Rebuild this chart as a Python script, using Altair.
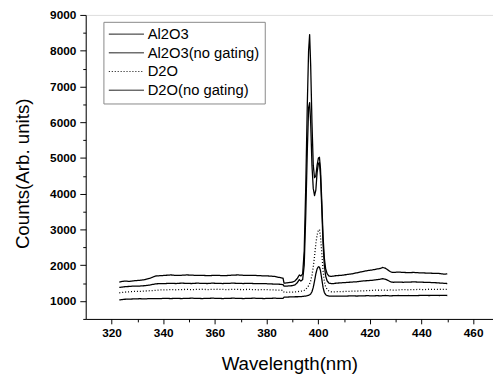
import altair as alt
import pandas as pd

wavelength = [323, 325, 327, 329, 331, 333, 335, 337, 339, 341, 343, 345, 347, 349, 351, 353,
              355, 357, 359, 361, 363, 365, 367, 369, 371, 373, 375, 377, 379, 381, 383, 385,
              386.4, 386.8, 388, 389, 390, 391, 392, 392.7, 393.3, 394, 394.6, 395.2, 395.8,
              396.3, 396.7, 397.1, 397.6, 398.1, 398.6, 399.1, 399.6, 400.1, 400.5, 400.9,
              401.4, 401.9, 402.4, 402.9, 403.5, 404.2, 405, 406, 407, 409, 411, 413, 415,
              417, 419, 421, 423, 424, 425, 426, 427, 428, 429, 431, 433, 435, 437, 439, 441,
              443, 445, 447, 449, 450]

al2o3 = [1530, 1560, 1550, 1570, 1580, 1600, 1640, 1700, 1710, 1720, 1730, 1715, 1720, 1730, 1725, 1715,
         1720, 1710, 1715, 1720, 1710, 1715, 1725, 1730, 1720, 1715, 1720, 1710, 1705, 1700, 1690, 1660,
         1640, 1500, 1510, 1520, 1530, 1560, 1640, 1730, 1700, 1760, 2400, 4200, 6500,
         8000, 8450, 7600, 6000, 4800, 4450, 4500, 4800, 5000, 5020, 4700,
         3800, 2800, 2200, 1900, 1760, 1700, 1690, 1700, 1710, 1720, 1740, 1760, 1790,
         1820, 1850, 1870, 1900, 1910, 1940, 1920, 1870, 1820, 1800, 1810, 1800, 1795, 1800, 1790, 1785,
         1780, 1775, 1770, 1750, 1760]

al2o3_no_gating = [1380, 1400, 1410, 1420, 1420, 1430, 1450, 1480, 1490, 1490, 1495, 1490, 1500, 1495, 1490, 1500,
                   1495, 1490, 1500, 1495, 1490, 1495, 1500, 1495, 1490, 1495, 1490, 1485, 1490, 1480, 1475, 1470,
                   1460, 1420, 1420, 1425, 1430, 1450, 1520, 1600, 1560, 1600, 2000, 3400, 5200,
                   6400, 6550, 6000, 4800, 4150, 3950, 4100, 4600, 4850, 4870, 4500,
                   3600, 2600, 2000, 1700, 1560, 1500, 1490, 1490, 1500, 1510, 1520, 1530, 1540,
                   1560, 1570, 1580, 1600, 1610, 1625, 1610, 1580, 1540, 1525, 1530, 1525, 1530, 1535, 1530, 1525,
                   1520, 1515, 1505, 1495, 1490]

d2o = [1230, 1250, 1260, 1270, 1270, 1280, 1290, 1300, 1310, 1310, 1320, 1315, 1320, 1325, 1320, 1325,
       1330, 1320, 1325, 1330, 1325, 1320, 1330, 1325, 1320, 1325, 1320, 1315, 1320, 1315, 1310, 1305,
       1300, 1250, 1245, 1250, 1250, 1255, 1260, 1270, 1275, 1280, 1300, 1330, 1380,
       1430, 1480, 1560, 1720, 1950, 2250, 2600, 2850, 2980, 3000, 2800,
       2350, 1850, 1550, 1400, 1320, 1280, 1260, 1255, 1260, 1265, 1270, 1275, 1280,
       1285, 1290, 1300, 1305, 1300, 1310, 1305, 1300, 1310, 1305, 1310, 1320, 1315, 1320, 1325, 1320,
       1330, 1325, 1330, 1325, 1330]

d2o_no_gating = [1030, 1050, 1055, 1060, 1065, 1060, 1070, 1065, 1070, 1075, 1070, 1075, 1070, 1075, 1080, 1075,
                 1070, 1075, 1080, 1075, 1070, 1075, 1080, 1075, 1070, 1075, 1080, 1075, 1070, 1075, 1080, 1075,
                 1075, 1110, 1110, 1115, 1115, 1120, 1120, 1125, 1125, 1130, 1135, 1140, 1150,
                 1160, 1175, 1200, 1260, 1380, 1560, 1760, 1900, 1960, 1950, 1850,
                 1620, 1380, 1240, 1180, 1150, 1140, 1135, 1135, 1140, 1135, 1140, 1145, 1140,
                 1145, 1150, 1145, 1150, 1145, 1150, 1155, 1150, 1145, 1150, 1155, 1150, 1155, 1150, 1155, 1160,
                 1155, 1160, 1155, 1160, 1155]

series_names = ["Al2O3", "Al2O3(no gating)", "D2O", "D2O(no gating)"]
x_ticks = [320, 330, 340, 350, 360, 370, 380, 390, 400, 410, 420, 430, 440, 450, 460]
y_ticks = [500, 1000, 1500, 2000, 2500, 3000, 3500, 4000, 4500, 5000, 5500, 6000, 6500,
           7000, 7500, 8000, 8500, 9000]

rows = []
for name, vals in zip(series_names, [al2o3, al2o3_no_gating, d2o, d2o_no_gating]):
    for w, v in zip(wavelength, vals):
        rows.append({"wl": w, "counts": v, "series": name})
df = pd.DataFrame(rows)

FONT = "Liberation Sans"

x_axis = alt.Axis(
    title="Wavelength(nm)", values=x_ticks, format="d",
    labelExpr="datum.value % 20 === 0 ? datum.label : ''",
    tickSize={"condition": {"test": "datum.value % 20 === 0", "value": 5}, "value": 3},
    labelPadding=4, labelFont=FONT, labelFontSize=12, labelFontWeight="bold", labelColor="black",
    titleFont=FONT, titleFontSize=19, titleFontWeight="normal", titleColor="black",
    titleX=207, titleY=51, titleBaseline="alphabetic",
    domainColor="black", tickColor="black", grid=False, labelFlush=False,
)
y_axis = alt.Axis(
    title="Counts(Arb. units)", values=y_ticks, format="d",
    labelExpr="datum.value % 1000 === 0 ? datum.label : ''",
    tickSize={"condition": {"test": "datum.value % 1000 === 0", "value": 6}, "value": 3},
    labelPadding=4, labelFont=FONT, labelFontSize=12, labelFontWeight="bold", labelColor="black",
    titleFont=FONT, titleFontSize=19, titleFontWeight="normal", titleColor="black",
    titleX=-64, titleY=161, titleBaseline="middle", titleAngle=270,
    domainColor="black", tickColor="black", grid=False, labelFlush=False,
)

chart = alt.Chart(df).mark_line(color="black", strokeJoin="round", strokeWidth=1.3).encode(
    x=alt.X("wl:Q", scale=alt.Scale(domain=[310, 467.7], nice=False, zero=False), axis=x_axis),
    y=alt.Y("counts:Q", scale=alt.Scale(domain=[500, 9000], nice=False, zero=False), axis=y_axis),
    strokeDash=alt.StrokeDash(
        "series:N",
        scale=alt.Scale(domain=series_names, range=[[1, 0], [1, 0], [1, 2], [1, 0]]),
        legend=alt.Legend(
            title=None, orient="none", legendX=18, legendY=7,
            symbolType="M-1,0H4.1", symbolSize=196, symbolStrokeWidth=1,
            symbolStrokeColor="black", symbolFillColor="transparent",
            labelFont=FONT, labelFontSize=15, labelColor="black", labelOffset=25,
            padding=5, rowPadding=3, strokeColor="#888", fillColor="white",
        ),
    ),
).properties(
    width=414, height=309,
    autosize=alt.AutoSizeParams(type="none"),
    padding={"left": 79, "top": 4, "right": 0, "bottom": 58},
).configure_view(stroke="black", strokeWidth=1).configure(background="white")

chart.save("out.html", embed_options={"renderer": "svg", "actions": False})
